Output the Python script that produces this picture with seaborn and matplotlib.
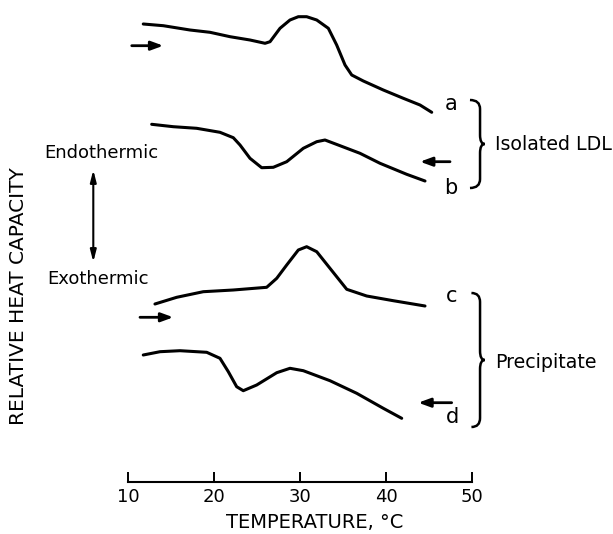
import numpy as np
import pandas as pd
import seaborn as sns
import matplotlib.pyplot as plt
from matplotlib.path import Path
from matplotlib.patches import PathPatch

# Dados (temperatura em °C, capacidade calorífica relativa em unidades arbitrárias)
temp_a = [11.74, 14.07, 17.17, 19.50, 21.83, 24.15, 25.90, 26.48, 27.64, 28.80, 29.77,
          30.74, 31.91, 33.26, 34.23, 35.20, 35.98, 37.33, 39.65, 41.98, 43.92, 45.28]
heat_a = [510.0, 508.3, 504.0, 501.7, 497.3, 494.0, 490.7, 492.3, 505.7, 514.0, 517.3,
          517.3, 514.0, 505.7, 489.0, 469.0, 459.0, 453.0, 444.0, 435.7, 429.0, 421.7]

temp_b = [12.72, 15.23, 17.95, 20.66, 22.21, 22.99, 24.15, 25.51, 26.86, 28.42, 30.35,
          31.91, 32.87, 34.62, 36.94, 39.27, 42.37, 44.50]
heat_b = [409.7, 407.3, 405.7, 401.7, 396.3, 389.0, 375.7, 366.3, 366.7, 372.3, 385.7,
          392.3, 394.0, 388.3, 380.7, 370.7, 359.7, 353.0]

temp_c = [13.10, 15.63, 18.72, 22.21, 26.09, 27.26, 28.42, 29.77, 30.74, 31.91, 33.45,
          35.40, 37.72, 40.81, 44.50]
heat_c = [230.0, 236.7, 242.3, 244.0, 246.7, 255.7, 269.0, 284.0, 287.3, 282.3, 265.7,
          244.7, 238.0, 233.3, 228.0]

temp_d = [11.74, 13.69, 16.01, 19.12, 20.66, 21.63, 22.60, 23.37, 24.93, 27.26, 28.80,
          30.35, 33.45, 36.56, 39.65, 41.79]
heat_d = [179.0, 182.3, 183.3, 181.7, 175.7, 162.3, 147.3, 143.3, 149.0, 161.3, 165.7,
          163.3, 153.3, 140.7, 125.7, 115.7]

curve_labels = ['a', 'b', 'c', 'd']
x_ticks = [10, 20, 30, 40, 50]
groups = ['Isolated LDL', 'Precipitate']

df = pd.concat([
    pd.DataFrame({'temp': t, 'heat': h, 'curve': c})
    for t, h, c in zip([temp_a, temp_b, temp_c, temp_d],
                       [heat_a, heat_b, heat_c, heat_d], curve_labels)
])

sns.set_theme(style='white')
plt.rcParams['font.family'] = ['DejaVu Sans']
plt.rcParams['text.color'] = 'black'
plt.rcParams['xtick.color'] = 'black'
plt.rcParams['xtick.labelcolor'] = 'black'

fig = plt.figure(figsize=(6.13, 5.34), dpi=100)
ax = fig.add_axes([0, 0, 1, 1])

sns.lineplot(data=df, x='temp', y='heat', units='curve', estimator=None,
             color='black', linewidth=2.2, ax=ax)

ax.set_xlim(10 - 128.3 / 8.6, 10 + (613 - 128.3) / 8.6)
ax.set_ylim(0, 534)

# Eixo de temperatura
for s in ['top', 'left', 'right']:
    ax.spines[s].set_visible(False)
ax.spines['bottom'].set_position(('data', 52.3))
ax.spines['bottom'].set_bounds(10, 50)
ax.spines['bottom'].set_linewidth(1.5)
ax.spines['bottom'].set_color('black')
ax.set_xticks(x_ticks)
ax.set_xticklabels([str(v) for v in x_ticks])
ax.tick_params(axis='x', direction='in', length=7.2, width=1.4, pad=4.5,
               labelsize=13, colors='black', bottom=True)
ax.set_yticks([])
ax.set_xlabel('')
ax.set_ylabel('')

ax.text(31.7, 12, 'TEMPERATURE, °C', ha='center', va='center', fontsize=14, color='black')
ax.text(-2.71, 238, 'RELATIVE HEAT CAPACITY', ha='center', va='center',
        rotation=90, fontsize=14.5, color='black')

# Endotérmico / exotérmico
ax.text(6.91, 381, 'Endothermic', ha='center', va='center', fontsize=13, color='black')
ax.text(6.51, 255, 'Exothermic', ha='center', va='center', fontsize=13, color='black')
ax.annotate('', xy=(5.93, 364), xytext=(5.93, 272),
            arrowprops=dict(arrowstyle='<|-|>,head_length=0.7,head_width=0.18',
                            mutation_scale=10, lw=1.5, color='black',
                            shrinkA=0, shrinkB=0))

# Setas de direção de varredura
scan_arrows = [((14.07, 488.3), (10.40, 488.3)),
               ((43.92, 372.3), (47.41, 372.3)),
               ((15.23, 216.7), (11.36, 216.7)),
               ((43.72, 131.3), (47.60, 131.3))]
for head, tail in scan_arrows:
    ax.annotate('', xy=head, xytext=tail,
                arrowprops=dict(arrowstyle='-|>,head_length=0.6,head_width=0.22',
                                mutation_scale=12, lw=2.0, color='black',
                                shrinkA=0, shrinkB=0))

# Rótulos das curvas
label_pos = [(47.5, 430), (47.5, 346), (47.6, 238), (47.7, 117)]
for lab, (x, y) in zip(curve_labels, label_pos):
    ax.text(x, y, lab, ha='center', va='center', fontsize=15, color='black')


def draw_brace(ax, x0, xm, xt, ytop, ybot, r=9):
    ymid = (ytop + ybot) / 2
    verts = [(x0, ytop), (xm, ytop), (xm, ytop - r),
             (xm, ymid + r),
             (xm, ymid), (xt, ymid),
             (xm, ymid), (xm, ymid - r),
             (xm, ybot + r),
             (xm, ybot), (x0, ybot)]
    codes = [Path.MOVETO, Path.CURVE3, Path.CURVE3,
             Path.LINETO,
             Path.CURVE3, Path.CURVE3,
             Path.CURVE3, Path.CURVE3,
             Path.LINETO,
             Path.CURVE3, Path.CURVE3]
    ax.add_patch(PathPatch(Path(verts, codes), fill=False, lw=1.8, color='black'))


draw_brace(ax, 49.73, 50.9, 51.45, 434, 346)
draw_brace(ax, 49.9, 50.9, 51.45, 241, 107)

ax.text(52.64, 389, groups[0], ha='left', va='center', fontsize=13.7, color='black')
ax.text(52.64, 172, groups[1], ha='left', va='center', fontsize=13.7, color='black')

fig.savefig('out.png', dpi=100)
plt.close(fig)
